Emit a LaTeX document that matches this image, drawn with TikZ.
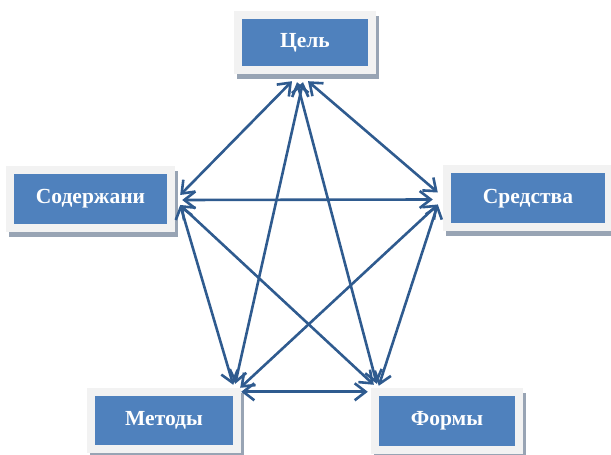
\documentclass[tikz,border=0pt]{standalone}
\usepackage{fontspec}
\setmainfont{Liberation Serif}
\usetikzlibrary{arrows.meta,shadows}
\definecolor{boxblue}{HTML}{4F81BD}
\definecolor{framegray}{HTML}{F2F2F2}
\definecolor{shadowgray}{HTML}{98A4B4}
\definecolor{arrowblue}{HTML}{2F5B8F}
\begin{document}
\begin{tikzpicture}[box/.style={rectangle, fill=framegray, inner sep=0pt, text=white,
		font=\bfseries\fontsize{21.5}{26}\selectfont,
		drop shadow={shadow xshift=3pt, shadow yshift=-5pt, fill=shadowgray, opacity=1},
		path picture={\fill[boxblue] ([shift={(8pt,8pt)}]path picture bounding box.south west) rectangle ([shift={(-8pt,-8pt)}]path picture bounding box.north east);}},
	arr/.style={{Straight Barb[length=11pt,width=17pt]}-{Straight Barb[length=11pt,width=17pt]}, line width=2.6pt, draw=arrowblue}]
\useasboundingbox (0,0) rectangle (611pt,455pt);
\node [box, minimum width=142pt, minimum height=63pt] (c) at (305pt,412.5pt) {Цель};
\node [box, minimum width=169pt, minimum height=66pt] (s) at (90.5pt,256pt) {Содержани};
\node [box, minimum width=170pt, minimum height=66pt] (sr) at (528pt,256.5pt) {Средства};
\node [box, minimum width=154pt, minimum height=65pt] (m) at (164pt,34.5pt) {Методы};
\node [box, minimum width=152pt, minimum height=66pt] (f) at (447pt,34pt) {Формы};
\draw [arr] ([shift={(-13pt,-7pt)}]c.south) -- ([shift={(5pt,4pt)}]s.east);
\draw [arr] ([shift={(3pt,-7pt)}]c.south) -- ([shift={(-5pt,6pt)}]sr.west);
\draw [arr] ([shift={(-2pt,-8pt)}]c.south) -- ([shift={(-6pt,4pt)}]m.north east);
\draw [arr] ([shift={(-8pt,-8pt)}]c.south) -- ([shift={(6pt,4pt)}]f.north west);
\draw [arr] ([shift={(7pt,-1pt)}]s.east) -- ([shift={(-10pt,-1pt)}]sr.west);
\draw [arr] ([shift={(5pt,-6pt)}]s.east) -- ([shift={(-8pt,3pt)}]m.north east);
\draw [arr] ([shift={(5pt,-6pt)}]s.east) -- ([shift={(3pt,3pt)}]f.north west);
\draw [arr] ([shift={(-5pt,-6pt)}]sr.west) -- ([shift={(-1pt,0pt)}]m.north east);
\draw [arr] ([shift={(-5pt,-6pt)}]sr.west) -- ([shift={(8pt,2pt)}]f.north west);
\draw [arr] ([shift={(0pt,-4pt)}]m.north east) -- ([shift={(-3pt,-4pt)}]f.north west);
\end{tikzpicture}
\end{document}
